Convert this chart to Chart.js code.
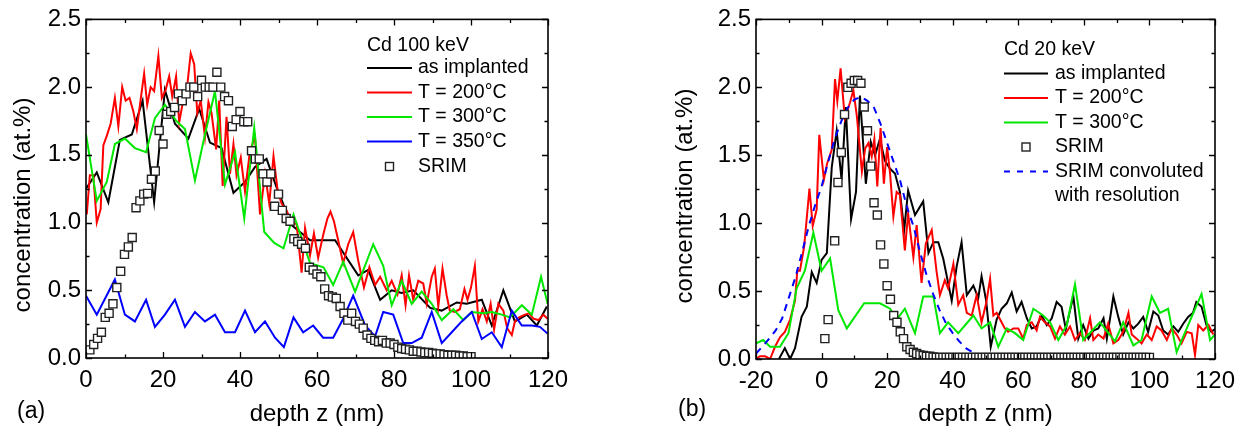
<!DOCTYPE html>
<html><head><meta charset="utf-8">
<script src="https://cdn.jsdelivr.net/npm/chart.js@4/dist/chart.umd.min.js"></script>
<style>
html,body{margin:0;padding:0;background:#fff;}
#wrap{position:relative;width:1247px;height:430px;overflow:hidden;}
.pane{position:absolute;top:0;height:430px;}
canvas{display:block;}
</style></head><body>
<div id="wrap">
<div class="pane" style="left:0;width:600px"><canvas id="ca" width="600" height="430"></canvas></div>
<div class="pane" style="left:600px;width:647px"><canvas id="cb" width="647" height="430"></canvas></div>
</div>
<script>
// ---------- Panel (a): Cd 100 keV ----------
const aBlackX = [0,2.8,5.8,8.8,11.9,14.7,17.7,20.5,23.1,26.6,29.4,32.2,35.2,38.3,41.3,43.9,46.9,49.5,51.2,53.0,55.6,58.2,64.7,70.7,73.3,76.4,79.4,82.0,85.0,89.4,92.4,96.3,98.9,102.8,105.4,108.4,111.4,114.5,117.1,119.7];
const aBlackY = [1.25,1.37,1.15,1.61,1.65,1.90,1.15,1.98,1.73,1.62,1.84,1.59,1.55,1.22,1.30,1.41,1.47,1.26,1.14,0.99,0.93,0.87,0.87,0.61,0.65,0.43,0.50,0.48,0.50,0.37,0.35,0.41,0.40,0.43,0.24,0.50,0.27,0.32,0.24,0.38];

const aRedX = [0.2,1.0,1.9,2.8,3.8,4.5,5.4,6.4,7.5,8.4,9.4,10.3,11.3,12.3,13.2,14.2,15.1,15.9,16.8,17.7,18.8,19.7,20.7,21.6,22.4,23.4,24.2,25.3,26.1,27.2,28.1,28.9,29.8,30.9,31.8,32.6,33.8,34.6,35.5,36.5,37.4,38.3,39.1,40.2,41.3,42.6,43.9,45.2,46.5,47.6,48.7,49.8,50.8,52.1,53.4,54.7,56.0,56.9,58.2,59.2,60.3,61.7,62.7,63.5,64.4,65.5,66.8,68.1,69.4,70.7,72.2,73.6,75.1,76.4,78.1,79.4,80.9,82.0,83.0,83.9,85.0,86.3,87.6,88.5,89.8,90.6,91.5,92.6,93.7,94.5,95.8,97.1,98.3,99.1,100.0,101.0,101.9,103.0,104.1,105.1,106.0,107.1,108.4,109.4,110.6,111.4,112.5,114.0,115.1,116.2,117.5,118.8,119.9];
const aRedY = [1.06,1.35,1.35,1.00,1.10,1.57,1.64,1.73,1.92,1.71,2.00,1.90,1.92,1.82,1.69,1.91,2.10,1.87,2.00,1.97,2.23,1.92,1.98,2.08,1.93,2.08,1.74,1.91,1.96,2.25,2.17,1.81,1.90,1.63,1.89,1.81,1.54,1.90,1.27,1.78,1.36,1.58,1.35,1.48,1.23,1.53,1.63,1.06,1.36,1.14,1.49,1.23,1.14,1.09,1.00,0.99,0.63,0.96,0.76,0.92,0.74,0.92,1.03,1.08,1.01,0.87,0.70,0.84,0.93,0.72,0.52,0.67,0.54,0.60,0.50,0.57,0.47,0.61,0.39,0.61,0.43,0.57,0.55,0.40,0.60,0.66,0.38,0.66,0.46,0.35,0.34,0.36,0.51,0.43,0.52,0.68,0.27,0.36,0.27,0.40,0.21,0.40,0.35,0.22,0.17,0.27,0.30,0.32,0.33,0.29,0.28,0.32,0.29];

const aGreenX = [0,2.8,5.4,7.5,10.1,12.7,15.6,17.9,20.5,23.5,25.7,28.3,30.9,33.5,36.1,38.7,41.1,43.7,46.3,48.9,51.3,53.9,58.2,61.7,64.2,66.8,69.9,74.6,77.2,79.4,82.0,84.6,87.2,89.8,92.4,95.4,98.0,100.2,103.2,105.4,108.0,110.1,113.2,115.8,118.2,119.9];
const aGreenY = [1.65,1.16,1.30,1.58,1.62,1.55,1.52,1.77,1.87,1.75,1.69,1.31,1.65,1.97,1.28,1.52,1.03,1.70,0.93,0.85,0.81,1.06,0.70,0.67,0.54,0.71,0.49,0.84,0.68,0.39,0.57,0.40,0.49,0.40,0.28,0.36,0.28,0.34,0.33,0.34,0.32,0.30,0.39,0.32,0.60,0.40];

const aBlueX = [0,2.8,7.5,10.1,12.7,15.6,17.9,20.5,23.1,25.7,28.3,30.9,33.5,36.1,38.7,41.3,43.9,46.5,49.1,51.4,53.9,56.4,59.0,61.6,64.2,66.8,69.4,72.5,75.1,77.2,79.8,82.4,84.6,87.2,89.8,92.4,95.0,97.6,100.2,102.8,105.4,108.0,110.6,113.2,115.8,117.9,119.9];
const aBlueY = [0.46,0.32,0.58,0.32,0.27,0.43,0.23,0.32,0.43,0.23,0.34,0.27,0.32,0.19,0.19,0.35,0.19,0.27,0.15,0.08,0.30,0.19,0.24,0.15,0.15,0.29,0.46,0.24,0.16,0.34,0.32,0.11,0.11,0.15,0.34,0.11,0.19,0.27,0.34,0.14,0.19,0.08,0.35,0.24,0.24,0.23,0.18];

const aSrimX = [1,2,3,4,5,6,7,8,9,10,11,12,13,14,15,16,17,18,19,20,21,22,23,24,25,26,27,28,29,30,31,32,33,34,35,36,37,38,39,40,41,42,43,44,45,46,47,48,49,50,51,52,53,54,55,56,57,58,59,60,61,62,63,64,65,66,67,68,69,70,71,72,73,74,75,76,77,78,79,80,81,82,83,84,85,86,87,88,89,90,91,92,93,94,95,96,97,98,99,100];
const aSrimY = [0.06,0.10,0.145,0.19,0.30,0.33,0.40,0.52,0.64,0.765,0.82,0.89,1.11,1.16,1.21,1.215,1.32,1.38,1.68,1.58,1.80,1.82,1.85,1.95,1.90,1.95,2.00,2.00,1.93,2.05,2.00,2.00,2.00,2.11,2.00,1.93,1.90,1.71,1.76,1.82,1.745,1.745,1.53,1.47,1.47,1.36,1.30,1.36,1.12,1.21,1.09,1.03,1.01,0.88,0.86,0.84,0.81,0.67,0.65,0.62,0.60,0.51,0.46,0.45,0.44,0.38,0.33,0.28,0.33,0.27,0.25,0.22,0.17,0.145,0.13,0.12,0.13,0.11,0.11,0.10,0.08,0.07,0.065,0.06,0.05,0.05,0.045,0.04,0.04,0.035,0.03,0.03,0.025,0.02,0.02,0.02,0.015,0.015,0.01,0.01];

// ---------- Panel (b): Cd 20 keV ----------
const bBlackX = [-13,-11.2,-9.6,-8.1,-6.1,-4.5,-3.0,-1.5,0.0,1.6,3.1,4.6,6.1,7.4,9.0,10.5,11.7,13.5,15.0,16.3,17.8,19.3,20.9,22.4,23.9,25.2,26.4,28.5,31.0,32.6,34.1,35.6,37.1,39.7,41.2,42.7,44.3,46.3,47.8,48.8,50.2,51.6,53.4,54.9,56.5,58.0,59.5,61.0,62.6,64.1,65.6,67.1,68.7,70.2,71.7,73.2,74.5,75.8,76.8,78.3,79.8,81.4,82.9,84.4,86.0,87.0,88.0,89.0,90.5,92.0,93.6,95.1,96.6,98.1,99.6,101.2,102.7,104.2,105.7,107.3,108.8,110.3,111.8,113.3,114.3,115.9,117.4,118.9,120];
const bBlackY = [0,0.08,0.0,0.08,0.31,0.385,0.64,0.56,0.73,0.78,1.41,1.68,1.32,1.855,1.03,1.23,1.94,1.29,1.60,1.50,1.62,1.46,1.40,1.365,1.23,0.95,1.24,1.06,1.16,0.78,0.86,0.86,0.74,0.43,0.68,0.86,0.47,0.54,0.45,0.61,0.43,0.09,0.29,0.37,0.41,0.49,0.35,0.42,0.30,0.225,0.24,0.32,0.25,0.30,0.42,0.385,0.22,0.36,0.46,0.15,0.25,0.15,0.21,0.225,0.30,0.15,0.30,0.46,0.31,0.18,0.27,0.225,0.26,0.31,0.20,0.35,0.32,0.21,0.18,0.24,0.20,0.26,0.31,0.34,0.42,0.385,0.25,0.20,0.22];

const bRedX = [-20,-18.8,-17.2,-15.7,-14.2,-12.7,-11.2,-9.6,-8.1,-7.4,-6.6,-5.3,-3.7,-2.7,-1.5,-0.7,0.7,1.7,3.1,4.1,4.8,5.8,7.1,8.7,9.7,10.8,12.3,13.3,14.3,15.3,16.1,17.0,18.0,19.0,20.0,20.9,21.9,22.9,23.9,25.4,26.4,28.0,29.0,30.5,31.8,33.6,35.1,36.1,37.6,38.6,40.2,41.7,43.2,44.3,45.8,47.3,48.8,50.2,51.4,52.4,53.4,54.9,55.9,56.9,58.5,60.0,61.5,62.6,64.1,65.6,66.6,68.1,69.7,71.2,72.7,74.2,75.8,77.3,78.8,80.3,81.9,82.9,84.4,86.0,87.4,89.0,90.5,92.0,93.6,94.6,96.1,97.6,99.2,100.7,102.2,103.7,105.3,106.8,108.3,109.8,111.4,112.9,113.9,114.9,116.4,118.0,119.5];
const bRedY = [0.0,0.02,0.02,0.0,0.09,0.16,0.20,0.29,0.43,0.65,0.65,0.83,1.255,0.98,1.10,1.65,1.32,1.44,1.54,2.06,1.90,2.14,1.77,1.89,1.98,1.78,1.38,1.55,1.59,1.49,1.62,1.27,1.70,1.29,1.56,1.365,1.05,1.23,1.21,0.80,1.07,0.75,0.985,0.56,0.85,0.95,0.64,0.47,0.58,0.52,0.70,0.40,0.47,0.34,0.32,0.47,0.27,0.41,0.59,0.32,0.34,0.27,0.225,0.20,0.225,0.225,0.15,0.25,0.27,0.21,0.31,0.27,0.24,0.15,0.24,0.18,0.24,0.14,0.19,0.14,0.30,0.14,0.18,0.15,0.26,0.115,0.14,0.20,0.34,0.18,0.15,0.115,0.18,0.14,0.24,0.21,0.14,0.225,0.18,0.115,0.20,0.19,0.03,0.25,0.21,0.25,0.18];

const bGreenX = [-20,-17.8,-15.7,-12.7,-10.1,-7.6,-5.1,-2.5,0.0,2.6,5.1,7.7,13.0,17.8,20.9,22.9,25.4,28.5,31.0,34.1,36.1,38.6,41.7,46.3,48.8,51.4,53.9,56.5,59.0,61.5,64.6,67.6,69.7,72.2,74.8,77.3,79.8,84.9,89.5,92.0,95.1,97.6,100.7,103.2,105.7,108.3,113.4,115.9,118.5,120];
const bGreenY = [0.115,0.14,0.09,0.09,0.19,0.52,0.65,0.93,0.65,0.74,0.36,0.225,0.41,0.41,0.37,0.29,0.37,0.19,0.46,0.46,0.19,0.27,0.19,0.32,0.225,0.27,0.09,0.225,0.19,0.14,0.37,0.32,0.27,0.14,0.25,0.55,0.14,0.27,0.13,0.27,0.10,0.14,0.46,0.34,0.37,0.05,0.34,0.48,0.14,0.18];

const bSrimX = [1,2,4,5,6,7,8,9,10,11,12,13,14,15,16,17,18,19,20,21,22,23,24,25,26,27,28,29,30,31,32,33,34,35,36,37,38,39,40,41,42,43,44,45,46,47,48,49,50,51,52,53,54,55,56,57,58,59,60,61,62,63,64,65,66,67,68,69,70,71,72,73,74,75,76,77,78,79,80,81,82,83,84,85,86,87,88,89,90,91,92,93,94,95,96,97,98,99,100];
const bSrimY = [0.15,0.29,0.87,1.30,1.52,1.80,2.00,2.03,2.05,2.05,2.03,1.855,1.68,1.42,1.15,1.06,0.84,0.70,0.54,0.44,0.32,0.27,0.20,0.15,0.09,0.07,0.05,0.04,0.03,0.025,0.02,0.02,0.015,0.012,0.012,0.012,0.012,0.012,0.012,0.012,0.012,0.012,0.012,0.012,0.012,0.012,0.012,0.012,0.012,0.012,0.012,0.012,0.012,0.012,0.012,0.012,0.012,0.012,0.012,0.012,0.012,0.012,0.012,0.012,0.012,0.012,0.012,0.012,0.012,0.012,0.012,0.012,0.012,0.012,0.012,0.012,0.012,0.012,0.012,0.012,0.012,0.012,0.012,0.012,0.012,0.012,0.012,0.012,0.012,0.012,0.012,0.012,0.012,0.012,0.012,0.012,0.012,0.012,0.012];

const bConvX = [-20,-17,-14,-12,-10,-8,-6,-4,-2,0,2,4,6,8,10,12,14,16,18,20,22,24,26,28,30,32,34,36,38,40,42,44,46,48,50,52];
const bConvY = [0.04,0.12,0.21,0.30,0.45,0.60,0.78,0.97,1.13,1.27,1.45,1.62,1.75,1.85,1.91,1.93,1.90,1.85,1.73,1.59,1.45,1.31,1.12,0.98,0.79,0.62,0.48,0.36,0.26,0.19,0.13,0.08,0.05,0.03,0.015,0.0];

// tick label values
const yTickValues = [0, 0.5, 1.0, 1.5, 2.0, 2.5];
const aXTickValues = [0, 20, 40, 60, 80, 100, 120];
const bXTickValues = [-20, 0, 20, 40, 60, 80, 100, 120];

// ---------- helpers ----------
const FONT = "'Liberation Sans', Arial, Helvetica, sans-serif";
const zip = (xs, ys) => xs.slice(0, Math.min(xs.length, ys.length)).map((x, i) => ({x, y: ys[i]}));
const line = (label, xs, ys, color, order, extra) => Object.assign({
  label, data: zip(xs, ys), borderColor: color, backgroundColor: color,
  borderWidth: 2, pointRadius: 0, tension: 0, order, showLine: true
}, extra || {});
const squares = (label, xs, ys, order) => ({
  label, data: zip(xs, ys), showLine: false, pointStyle: 'rect', pointRadius: 5.7,
  pointBorderWidth: 1.4, borderColor: '#222', pointBorderColor: '#222', backgroundColor: '#fff',
  pointBackgroundColor: '#fff', order
});

const panelPlugin = {
  id: 'panel',
  afterDatasetsDraw(chart, args, o) {
    const {ctx, chartArea: a, scales: {x, y}} = chart;
    ctx.save();
    ctx.strokeStyle = '#000';
    ctx.lineWidth = 1.3;
    ctx.beginPath();
    for (let v = x.min; v <= x.max + 1e-9; v += o.xMinor) {
      const px = Math.round(x.getPixelForValue(v)) + 0.5;
      const major = Math.abs(v / o.xMajor - Math.round(v / o.xMajor)) < 1e-6;
      const L = major ? 6 : 3.5;
      ctx.moveTo(px, a.bottom); ctx.lineTo(px, a.bottom - L);
      ctx.moveTo(px, a.top); ctx.lineTo(px, a.top + L);
    }
    for (let v = y.min; v <= y.max + 1e-9; v += o.yMinor) {
      const py = Math.round(y.getPixelForValue(v)) + 0.5;
      const major = Math.abs(v / o.yMajor - Math.round(v / o.yMajor)) < 1e-6;
      const L = major ? 6 : 3.5;
      ctx.moveTo(a.left, py); ctx.lineTo(a.left + L, py);
      ctx.moveTo(a.right, py); ctx.lineTo(a.right - L, py);
    }
    ctx.stroke();
    ctx.lineWidth = 1.6;
    ctx.strokeRect(a.left, a.top, a.right - a.left, a.bottom - a.top);
    ctx.restore();
  },
  afterDraw(chart, args, o) {
    const {ctx, chartArea: a} = chart;
    ctx.save();
    ctx.fillStyle = '#000';
    // y title
    ctx.font = '24px ' + FONT;
    ctx.textAlign = 'center';
    ctx.textBaseline = 'alphabetic';
    ctx.save();
    ctx.translate(o.yTitleX, o.yTitleY);
    ctx.rotate(-Math.PI / 2);
    ctx.fillText(o.yTitle, 0, 0);
    ctx.restore();
    // x title
    ctx.fillText(o.xTitle, (a.left + a.right) / 2, o.xTitleY);
    // panel label
    ctx.font = '23px ' + FONT;
    ctx.textAlign = 'left';
    ctx.fillText(o.panelLabel, o.panelX, o.panelY);
    // legend
    const L = o.legend;
    ctx.font = '19.5px ' + FONT;
    ctx.textBaseline = 'middle';
    ctx.fillText(L.title, L.x, L.titleY);
    L.items.forEach(it => {
      if (it.kind === 'line') {
        ctx.save();
        ctx.strokeStyle = it.color; ctx.lineWidth = 2;
        if (it.dash) ctx.setLineDash(it.dash);
        ctx.beginPath(); ctx.moveTo(L.x, it.y); ctx.lineTo(L.x + L.len, it.y); ctx.stroke();
        ctx.restore();
      } else if (it.kind === 'square') {
        const cx = L.x + L.len / 2, s = 8;
        ctx.save();
        ctx.fillStyle = '#fff'; ctx.strokeStyle = '#222'; ctx.lineWidth = 1.4;
        ctx.fillRect(cx - s / 2, it.y - s / 2, s, s);
        ctx.strokeRect(cx - s / 2, it.y - s / 2, s, s);
        ctx.restore();
      }
      ctx.fillText(it.text, L.textX, it.y);
    });
    ctx.restore();
  }
};

function makeOptions(cfg) {
  return {
    responsive: false,
    animation: false,
    events: [],
    layout: {padding: {left: 0, top: cfg.top, right: cfg.right, bottom: 0}},
    plugins: {
      legend: {display: false},
      tooltip: {enabled: false},
      panel: cfg.panel
    },
    scales: {
      x: {
        type: 'linear', min: cfg.xMin, max: cfg.xMax,
        grid: {display: false, drawTicks: false},
        border: {display: false},
        afterBuildTicks: s => { s.ticks = cfg.xTicks.map(v => ({value: v})); },
        ticks: {autoSkip: false, maxRotation: 0, padding: 8, color: '#000',
                font: {family: FONT, size: 24}, callback: v => String(v)},
        afterFit: s => { s.height = cfg.xHeight; }
      },
      y: {
        type: 'linear', min: 0, max: 2.5,
        grid: {display: false, drawTicks: false},
        border: {display: false},
        afterBuildTicks: s => { s.ticks = yTickValues.map(v => ({value: v})); },
        ticks: {autoSkip: false, padding: 5, color: '#000',
                font: {family: FONT, size: 24}, callback: v => Number(v).toFixed(1)},
        afterFit: s => { s.width = cfg.yWidth; }
      }
    }
  };
}

new Chart(document.getElementById('ca'), {
  type: 'line',
  data: {datasets: [
    squares('SRIM', aSrimX, aSrimY, 0),
    line('T = 350°C', aBlueX, aBlueY, '#0000ff', 1),
    line('T = 300°C', aGreenX, aGreenY, '#00e800', 2),
    line('T = 200°C', aRedX, aRedY, '#ff0000', 3),
    line('as implanted', aBlackX, aBlackY, '#000000', 4)
  ]},
  options: makeOptions({
    top: 18, right: 52, xHeight: 72, yWidth: 86, xMin: 0, xMax: 120, xTicks: aXTickValues,
    panel: {
      xMinor: 10, xMajor: 20, yMinor: 0.25, yMajor: 0.5,
      yTitle: 'concentration (at.%)', yTitleX: 30, yTitleY: 205,
      xTitle: 'depth z (nm)', xTitleY: 421,
      panelLabel: '(a)', panelX: 17, panelY: 418,
      legend: {x: 367, len: 45, textX: 418, title: 'Cd 100 keV', titleY: 46, items: [
        {kind: 'line', color: '#000000', y: 68, text: 'as implanted'},
        {kind: 'line', color: '#ff0000', y: 92.5, text: 'T = 200°C'},
        {kind: 'line', color: '#00e800', y: 117, text: 'T = 300°C'},
        {kind: 'line', color: '#0000ff', y: 141.5, text: 'T = 350°C'},
        {kind: 'square', y: 166.5, text: 'SRIM'}
      ]}
    }
  }),
  plugins: [panelPlugin]
});

new Chart(document.getElementById('cb'), {
  type: 'line',
  data: {datasets: [
    squares('SRIM', bSrimX, bSrimY, 0),
    line('SRIM convoluted with resolution', bConvX, bConvY, '#0000ff', 1, {borderDash: [7, 6]}),
    line('T = 300°C', bGreenX, bGreenY, '#00e800', 2),
    line('T = 200°C', bRedX, bRedY, '#ff0000', 3),
    line('as implanted', bBlackX, bBlackY, '#000000', 4)
  ]},
  options: makeOptions({
    top: 19, right: 32, xHeight: 71, yWidth: 156, xMin: -20, xMax: 120, xTicks: bXTickValues,
    panel: {
      xMinor: 10, xMajor: 20, yMinor: 0.25, yMajor: 0.5,
      yTitle: 'concentration (at.%)', yTitleX: 92, yTitleY: 196,
      xTitle: 'depth z (nm)', xTitleY: 421,
      panelLabel: '(b)', panelX: 78, panelY: 416,
      legend: {x: 404, len: 44, textX: 455, title: 'Cd 20 keV', titleY: 50, items: [
        {kind: 'line', color: '#000000', y: 73.5, text: 'as implanted'},
        {kind: 'line', color: '#ff0000', y: 98, text: 'T = 200°C'},
        {kind: 'line', color: '#00e800', y: 122.5, text: 'T = 300°C'},
        {kind: 'square', y: 147, text: 'SRIM'},
        {kind: 'line', color: '#0000ff', dash: [6, 7], y: 171.5, text: 'SRIM convoluted'},
        {kind: 'none', y: 196, text: 'with resolution'}
      ]}
    }
  }),
  plugins: [panelPlugin]
});
</script>
</body></html>
